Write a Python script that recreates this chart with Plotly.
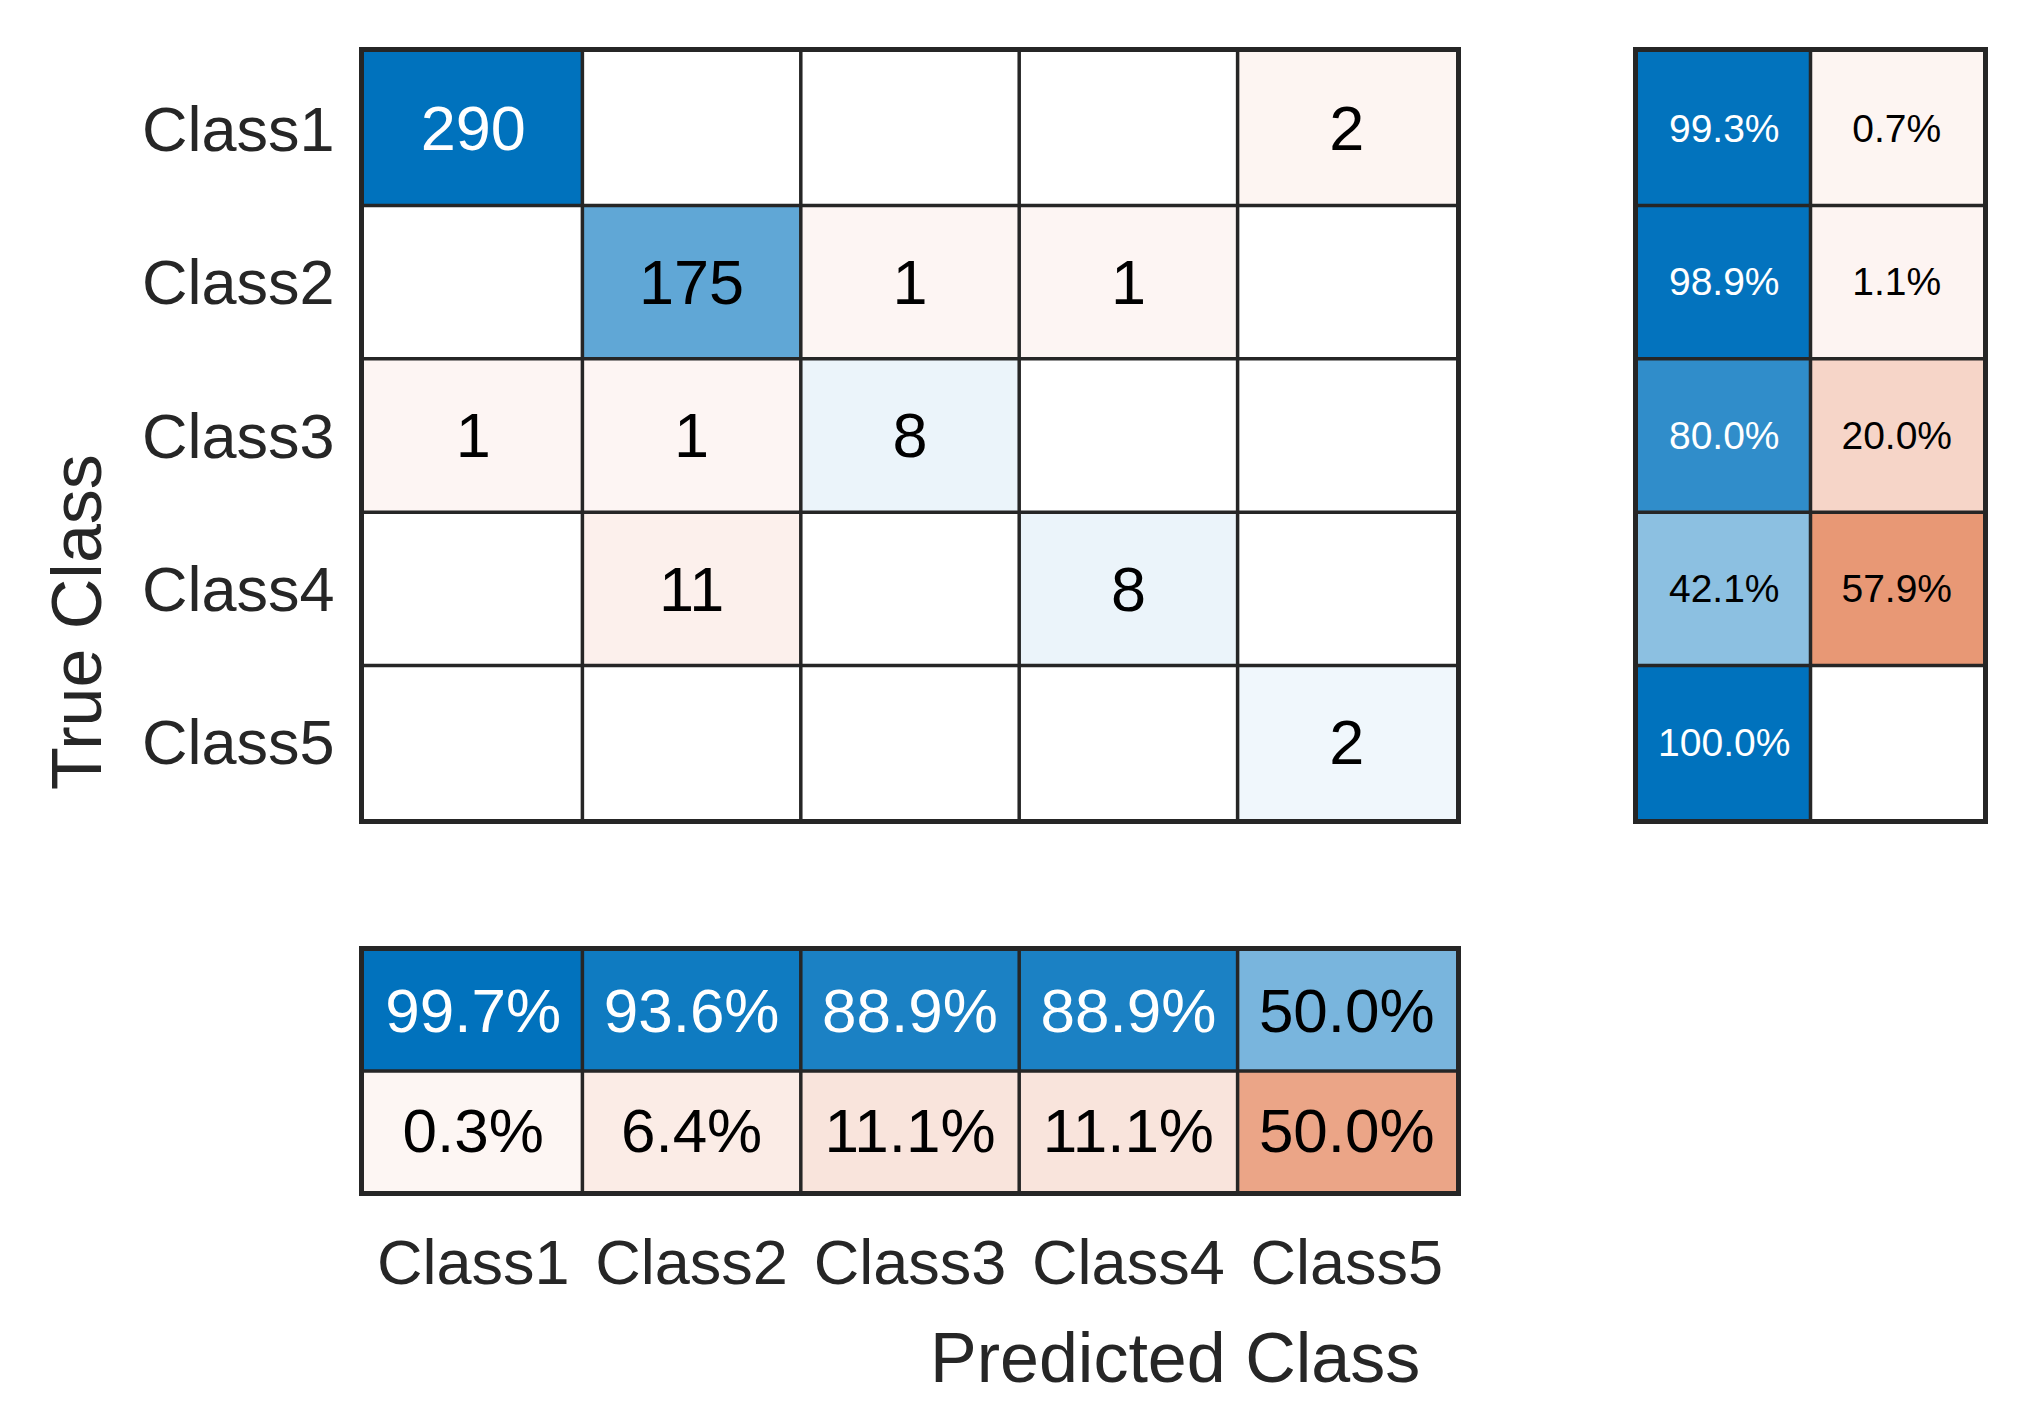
import plotly.graph_objects as go

# ---------------- data ----------------
classes = ["Class1", "Class2", "Class3", "Class4", "Class5"]
counts = [
    [290, 0, 0, 0, 2],
    [0, 175, 1, 1, 0],
    [1, 1, 8, 0, 0],
    [0, 11, 0, 8, 0],
    [0, 0, 0, 0, 2],
]
row_tpr = [99.3, 98.9, 80.0, 42.1, 100.0]   # true positive rate per true class
row_fnr = [0.7, 1.1, 20.0, 57.9, 0.0]       # false negative rate per true class
col_ppv = [99.7, 93.6, 88.9, 88.9, 50.0]    # precision per predicted class
col_fdr = [0.3, 6.4, 11.1, 11.1, 50.0]      # false discovery rate per predicted class

# ---------------- style ----------------
W, H = 2040, 1421
OFF = 8                     # default page body margin
FW, FH = W - 2 * OFF, H - 2 * OFF
FONT = "Liberation Sans, Arial, Helvetica, sans-serif"
DARK = "#262626"
BLUE = (0, 114, 189)
RED = (217, 83, 25)
MIN_T = 0.05
INSET = 4                   # axis border drawn outside the domain
TEXT_DROP = 6               # px to push cell labels down for optical centring


def mix(base, t):
    return "rgb(%d,%d,%d)" % tuple(round(255 * (1 - t) + c * t) for c in base)


def scale(base):
    return [[0, mix(base, MIN_T)], [1, mix(base, 1.0)]]


def px_x(a):
    return (a - OFF) / FW


def px_y(b):
    return 1 - (b - OFF) / FH


def xdom(a, b):
    return [px_x(a + INSET), px_x(b - INSET)]


def ydom(top, bottom):
    return [px_y(bottom - INSET), px_y(top + INSET)]


n = len(classes)
vmax = max(max(r) for r in counts)
main_cell_h = (823 - 48) / n
bot_cell_h = (1195 - 947) / 2
dy_main = TEXT_DROP / main_cell_h
dy_bot = TEXT_DROP / bot_cell_h

fig = go.Figure()

# ---------------- main matrix ----------------
z_diag = [[(counts[i][j] if (i == j and counts[i][j] > 0) else None) for j in range(n)] for i in range(n)]
z_off = [[(counts[i][j] if (i != j and counts[i][j] > 0) else None) for j in range(n)] for i in range(n)]
fig.add_trace(go.Heatmap(z=z_diag, x=list(range(n)), y=list(range(n)), colorscale=scale(BLUE),
                         zmin=0, zmax=vmax, showscale=False, hoverinfo="skip", xaxis="x", yaxis="y"))
fig.add_trace(go.Heatmap(z=z_off, x=list(range(n)), y=list(range(n)), colorscale=scale(RED),
                         zmin=0, zmax=vmax, showscale=False, hoverinfo="skip", xaxis="x", yaxis="y"))

tx, ty, tt, tc = [], [], [], []
for i in range(n):
    for j in range(n):
        v = counts[i][j]
        if v > 0:
            tx.append(j); ty.append(i + dy_main); tt.append(str(v))
            tc.append("white" if v / vmax >= 0.7 else "black")
fig.add_trace(go.Scatter(x=tx, y=ty, text=tt, mode="text", textposition="middle center",
                         textfont=dict(size=63, color=tc, family=FONT), hoverinfo="skip",
                         showlegend=False, xaxis="x", yaxis="y"))

# ---------------- right panel (row summary) ----------------
fig.add_trace(go.Heatmap(z=[[v if v > 0 else None] for v in row_tpr], x=[0], y=list(range(n)),
                         colorscale=scale(BLUE), zmin=0, zmax=100, showscale=False, hoverinfo="skip",
                         xaxis="x3", yaxis="y3"))
fig.add_trace(go.Heatmap(z=[[v if v > 0 else None] for v in row_fnr], x=[1], y=list(range(n)),
                         colorscale=scale(RED), zmin=0, zmax=100, showscale=False, hoverinfo="skip",
                         xaxis="x3", yaxis="y3"))
rx, ry, rt, rc = [], [], [], []
for i in range(n):
    for j, arr in enumerate([row_tpr, row_fnr]):
        v = arr[i]
        if v > 0:
            rx.append(j); ry.append(i + dy_main * 0.6); rt.append("%.1f%%" % v)
            rc.append("white" if v / 100 >= 0.7 else "black")
fig.add_trace(go.Scatter(x=rx, y=ry, text=rt, mode="text", textposition="middle center",
                         textfont=dict(size=39, color=rc, family=FONT), hoverinfo="skip",
                         showlegend=False, xaxis="x3", yaxis="y3"))

# ---------------- bottom panel (column summary) ----------------
fig.add_trace(go.Heatmap(z=[[v if v > 0 else None for v in col_ppv]], x=list(range(n)), y=[0],
                         colorscale=scale(BLUE), zmin=0, zmax=100, showscale=False, hoverinfo="skip",
                         xaxis="x2", yaxis="y2"))
fig.add_trace(go.Heatmap(z=[[v if v > 0 else None for v in col_fdr]], x=list(range(n)), y=[1],
                         colorscale=scale(RED), zmin=0, zmax=100, showscale=False, hoverinfo="skip",
                         xaxis="x2", yaxis="y2"))
bx, by, bt, bc = [], [], [], []
for r, arr in enumerate([col_ppv, col_fdr]):
    for j in range(n):
        v = arr[j]
        if v > 0:
            bx.append(j); by.append(r + dy_bot); bt.append("%.1f%%" % v)
            bc.append("white" if v / 100 >= 0.7 else "black")
fig.add_trace(go.Scatter(x=bx, y=by, text=bt, mode="text", textposition="middle center",
                         textfont=dict(size=62, color=bc, family=FONT), hoverinfo="skip",
                         showlegend=False, xaxis="x2", yaxis="y2"))

# ---------------- cell borders ----------------
def grid(xref, yref, ncols, nrows):
    for k in range(1, ncols):
        fig.add_shape(type="line", xref=xref, yref=yref, x0=k - 0.5, x1=k - 0.5, y0=-0.5, y1=nrows - 0.5,
                      line=dict(color=DARK, width=3.5), layer="above")
    for k in range(1, nrows):
        fig.add_shape(type="line", xref=xref, yref=yref, y0=k - 0.5, y1=k - 0.5, x0=-0.5, x1=ncols - 0.5,
                      line=dict(color=DARK, width=3.5), layer="above")


grid("x", "y", n, n)
grid("x3", "y3", 2, n)
grid("x2", "y2", n, 2)

box = dict(showline=True, mirror=True, linecolor=DARK, linewidth=4.5, showgrid=False, zeroline=False,
           ticks="", fixedrange=True)

fig.update_layout(
    width=FW, height=FH, autosize=False,
    margin=dict(l=0, r=0, t=0, b=0),
    paper_bgcolor="white", plot_bgcolor="white",
    showlegend=False,
    font=dict(family=FONT, color=DARK),
    xaxis=dict(domain=xdom(360, 1460), range=[-0.5, n - 0.5], showticklabels=False,
               anchor="y", **box),
    yaxis=dict(domain=ydom(48, 823), range=[n - 0.5, -0.5], tickvals=list(range(n)),
               ticktext=classes, tickfont=dict(size=63, color=DARK, family=FONT),
               ticklabelstandoff=12, anchor="x", **box),
    xaxis2=dict(domain=xdom(360, 1460), range=[-0.5, n - 0.5], tickvals=list(range(n)),
                ticktext=classes, tickfont=dict(size=63, color=DARK, family=FONT),
                ticklabelstandoff=13, anchor="y2", **box),
    yaxis2=dict(domain=ydom(947, 1195), range=[1.5, -0.5], showticklabels=False,
                anchor="x2", **box),
    xaxis3=dict(domain=xdom(1634, 1987), range=[-0.5, 1.5], showticklabels=False,
                anchor="y3", **box),
    yaxis3=dict(domain=ydom(48, 823), range=[n - 0.5, -0.5], showticklabels=False,
                anchor="x3", **box),
    annotations=[
        dict(text="True Class", xref="paper", yref="paper", x=px_x(77), y=px_y(622),
             xanchor="center", yanchor="middle", textangle=-90, showarrow=False,
             font=dict(size=70, color=DARK, family=FONT)),
        dict(text="Predicted Class", xref="paper", yref="paper", x=px_x(1175), y=px_y(1358),
             xanchor="center", yanchor="middle", showarrow=False,
             font=dict(size=70, color=DARK, family=FONT)),
    ],
)

fig.write_html("out.html")
